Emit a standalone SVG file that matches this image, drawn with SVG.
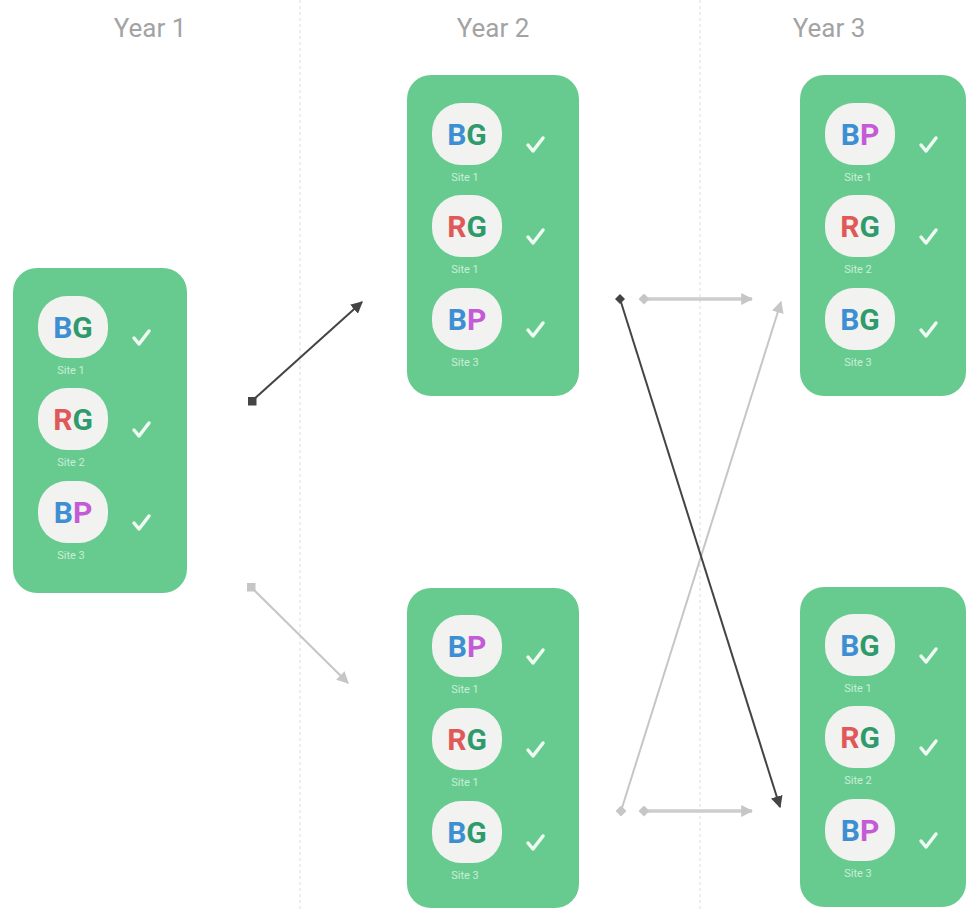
<svg xmlns="http://www.w3.org/2000/svg" width="967" height="909" viewBox="0 0 967 909">
<style>
.hdr{font-family:Roboto,"Liberation Sans",sans-serif;font-size:26px;fill:#a3a3a3;text-anchor:middle}
.card{fill:#67cb8f}
.bub{fill:#f2f3f0}
.lt{font-family:Roboto,"Liberation Sans",sans-serif;font-size:30px;font-weight:bold;text-anchor:middle}
.b{fill:#3d8fd4}.g{fill:#2f9a6c}.r{fill:#e05858}.p{fill:#c55ad6}
.site{font-family:Roboto,"Liberation Sans",sans-serif;font-size:11px;fill:#c9eed8;text-anchor:middle}
.chk{fill:none;stroke:#eefaf2;stroke-width:3.5;stroke-linecap:round;stroke-linejoin:round}
.grid{stroke:#dcdcdc;stroke-width:1;stroke-dasharray:3 3}
.dk{stroke:#444;stroke-width:2;fill:none}
.lg{stroke:#c6c6c6;stroke-width:2;fill:none}
.lgw{stroke:#cdcdcd;stroke-width:3.5;fill:none}
</style>
<defs>
<marker id="ahD" viewBox="0 0 10 10" refX="9" refY="5" markerWidth="12" markerHeight="12" markerUnits="userSpaceOnUse" orient="auto"><path d="M0 0 L10 5 L0 10 z" fill="#444"/></marker>
<marker id="ahL" viewBox="0 0 10 10" refX="9" refY="5" markerWidth="12" markerHeight="12" markerUnits="userSpaceOnUse" orient="auto"><path d="M0 0 L10 5 L0 10 z" fill="#c6c6c6"/></marker>
<marker id="sqD" viewBox="0 0 10 10" refX="5" refY="5" markerWidth="9" markerHeight="9" markerUnits="userSpaceOnUse" orient="0"><rect width="10" height="10" fill="#444"/></marker>
<marker id="sqL" viewBox="0 0 10 10" refX="5" refY="5" markerWidth="9" markerHeight="9" markerUnits="userSpaceOnUse" orient="0"><rect width="10" height="10" fill="#c6c6c6"/></marker>
<marker id="dmD" viewBox="0 0 10 10" refX="5" refY="5" markerWidth="10" markerHeight="10" markerUnits="userSpaceOnUse" orient="0"><path d="M5 0 L10 5 L5 10 L0 5 z" fill="#444"/></marker>
<marker id="dmL" viewBox="0 0 10 10" refX="5" refY="5" markerWidth="11" markerHeight="11" markerUnits="userSpaceOnUse" orient="0"><path d="M5 0 L10 5 L5 10 L0 5 z" fill="#c6c6c6"/></marker>
<path id="ck" d="M-7 0 L-2 6 L8 -7"/>
</defs>
<rect width="967" height="909" fill="#ffffff"/>
<g id="grid">
<line class="grid" x1="300" y1="0" x2="300" y2="909"/>
<line class="grid" x1="700" y1="0" x2="700" y2="909"/>
</g>
<g id="headers">
<text class="hdr" x="150" y="37">Year 1</text>
<text class="hdr" x="493" y="37">Year 2</text>
<text class="hdr" x="829" y="37">Year 3</text>
</g>
<g id="year1" transform="translate(13,268)">
<rect class="card" width="174" height="325" rx="24"/>
<rect class="bub" x="25" y="28" width="70" height="62" rx="29"/>
<text class="lt" x="60" y="70"><tspan class="b">B</tspan><tspan class="g">G</tspan></text>
<text class="site" x="58" y="106">Site 1</text>
<use href="#ck" class="chk" transform="translate(128,70)"/>
<rect class="bub" x="25" y="120" width="70" height="62" rx="29"/>
<text class="lt" x="60" y="162"><tspan class="r">R</tspan><tspan class="g">G</tspan></text>
<text class="site" x="58" y="198">Site 2</text>
<use href="#ck" class="chk" transform="translate(128,162)"/>
<rect class="bub" x="25" y="213" width="70" height="62" rx="29"/>
<text class="lt" x="60" y="255"><tspan class="b">B</tspan><tspan class="p">P</tspan></text>
<text class="site" x="58" y="291">Site 3</text>
<use href="#ck" class="chk" transform="translate(128,255)"/>
</g>
<g id="year2-top" transform="translate(407,75)">
<rect class="card" width="172" height="321" rx="24"/>
<rect class="bub" x="25" y="28" width="70" height="62" rx="29"/>
<text class="lt" x="60" y="70"><tspan class="b">B</tspan><tspan class="g">G</tspan></text>
<text class="site" x="58" y="106">Site 1</text>
<use href="#ck" class="chk" transform="translate(128,70)"/>
<rect class="bub" x="25" y="120" width="70" height="62" rx="29"/>
<text class="lt" x="60" y="162"><tspan class="r">R</tspan><tspan class="g">G</tspan></text>
<text class="site" x="58" y="198">Site 1</text>
<use href="#ck" class="chk" transform="translate(128,162)"/>
<rect class="bub" x="25" y="213" width="70" height="62" rx="29"/>
<text class="lt" x="60" y="255"><tspan class="b">B</tspan><tspan class="p">P</tspan></text>
<text class="site" x="58" y="291">Site 3</text>
<use href="#ck" class="chk" transform="translate(128,255)"/>
</g>
<g id="year3-top" transform="translate(800,75)">
<rect class="card" width="166" height="321" rx="24"/>
<rect class="bub" x="25" y="28" width="70" height="62" rx="29"/>
<text class="lt" x="60" y="70"><tspan class="b">B</tspan><tspan class="p">P</tspan></text>
<text class="site" x="58" y="106">Site 1</text>
<use href="#ck" class="chk" transform="translate(128,70)"/>
<rect class="bub" x="25" y="120" width="70" height="62" rx="29"/>
<text class="lt" x="60" y="162"><tspan class="r">R</tspan><tspan class="g">G</tspan></text>
<text class="site" x="58" y="198">Site 2</text>
<use href="#ck" class="chk" transform="translate(128,162)"/>
<rect class="bub" x="25" y="213" width="70" height="62" rx="29"/>
<text class="lt" x="60" y="255"><tspan class="b">B</tspan><tspan class="g">G</tspan></text>
<text class="site" x="58" y="291">Site 3</text>
<use href="#ck" class="chk" transform="translate(128,255)"/>
</g>
<g id="year2-bottom" transform="translate(407,588)">
<rect class="card" width="172" height="320" rx="24"/>
<rect class="bub" x="25" y="27" width="70" height="62" rx="29"/>
<text class="lt" x="60" y="69"><tspan class="b">B</tspan><tspan class="p">P</tspan></text>
<text class="site" x="58" y="105">Site 1</text>
<use href="#ck" class="chk" transform="translate(128,69)"/>
<rect class="bub" x="25" y="120" width="70" height="62" rx="29"/>
<text class="lt" x="60" y="162"><tspan class="r">R</tspan><tspan class="g">G</tspan></text>
<text class="site" x="58" y="198">Site 1</text>
<use href="#ck" class="chk" transform="translate(128,162)"/>
<rect class="bub" x="25" y="213" width="70" height="62" rx="29"/>
<text class="lt" x="60" y="255"><tspan class="b">B</tspan><tspan class="g">G</tspan></text>
<text class="site" x="58" y="291">Site 3</text>
<use href="#ck" class="chk" transform="translate(128,255)"/>
</g>
<g id="year3-bottom" transform="translate(800,587)">
<rect class="card" width="166" height="320" rx="24"/>
<rect class="bub" x="25" y="27" width="70" height="62" rx="29"/>
<text class="lt" x="60" y="69"><tspan class="b">B</tspan><tspan class="g">G</tspan></text>
<text class="site" x="58" y="105">Site 1</text>
<use href="#ck" class="chk" transform="translate(128,69)"/>
<rect class="bub" x="25" y="119" width="70" height="62" rx="29"/>
<text class="lt" x="60" y="161"><tspan class="r">R</tspan><tspan class="g">G</tspan></text>
<text class="site" x="58" y="197">Site 2</text>
<use href="#ck" class="chk" transform="translate(128,161)"/>
<rect class="bub" x="25" y="212" width="70" height="62" rx="29"/>
<text class="lt" x="60" y="254"><tspan class="b">B</tspan><tspan class="p">P</tspan></text>
<text class="site" x="58" y="290">Site 3</text>
<use href="#ck" class="chk" transform="translate(128,254)"/>
</g>
<g id="connectors">
<line class="dk" x1="252" y1="401" x2="362" y2="302" marker-start="url(#sqD)" marker-end="url(#ahD)"/>
<line class="lg" x1="251" y1="587" x2="348" y2="683" marker-start="url(#sqL)" marker-end="url(#ahL)"/>
<line class="lg" x1="621" y1="811" x2="781" y2="302" marker-start="url(#dmL)" marker-end="url(#ahL)"/>
<line class="dk" x1="620" y1="299" x2="780" y2="807" marker-start="url(#dmD)" marker-end="url(#ahD)"/>
<line class="lgw" x1="644" y1="299" x2="752" y2="299" marker-start="url(#dmL)" marker-end="url(#ahL)"/>
<line class="lgw" x1="644" y1="811" x2="752" y2="811" marker-start="url(#dmL)" marker-end="url(#ahL)"/>
</g>
</svg>
